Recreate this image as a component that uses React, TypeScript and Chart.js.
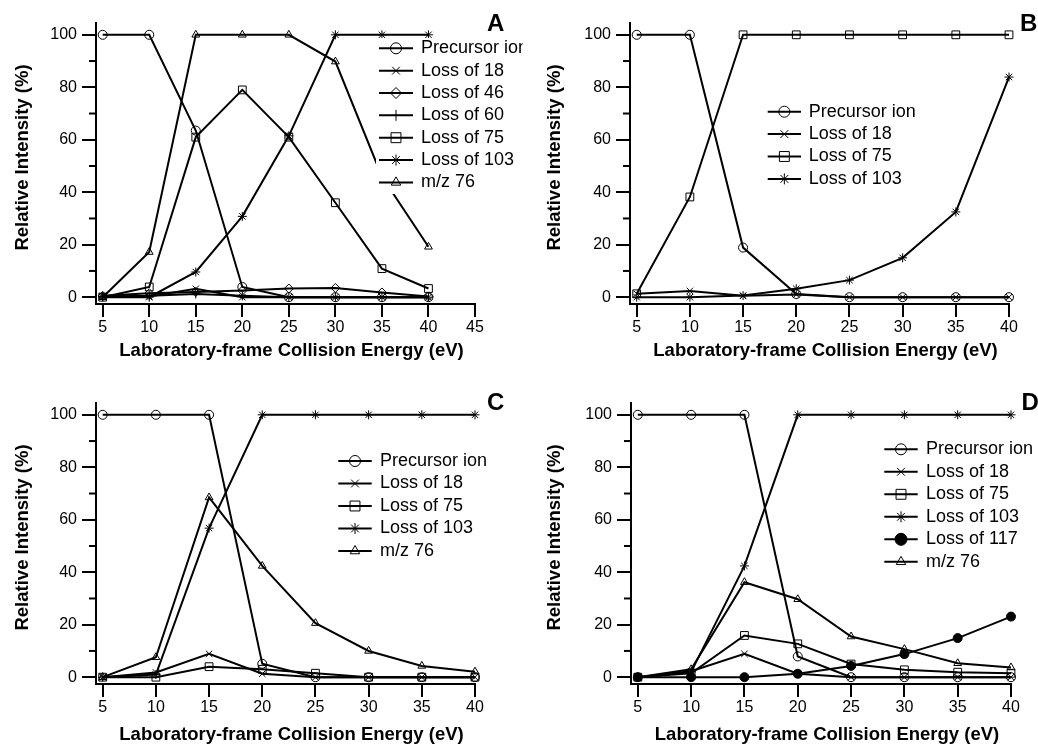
import React, { useEffect, useRef } from 'react';
import { Chart, registerables } from 'chart.js';
import { drawPoint } from 'chart.js/helpers';

Chart.register(...registerables);

const FONT = '"Liberation Sans", Arial, Helvetica, sans-serif';

// ---------- data ----------
const energies = [5, 10, 15, 20, 25, 30, 35, 40];
const xTicksA = [5, 10, 15, 20, 25, 30, 35, 40, 45];
const xTicksBCD = [5, 10, 15, 20, 25, 30, 35, 40];
const yMajorTicks = [0, 20, 40, 60, 80, 100];
const yMinorTicks = [10, 30, 50, 70, 90];

const xTitle = 'Laboratory-frame Collision Energy (eV)';
const yTitle = 'Relative Intensity (%)';

// Panel A
const aPrecursorIon = [100, 100, 63.5, 3.9, 0, 0, 0, 0];
const aLoss18 = [0.5, 0.3, 3.2, 0, 0, 0, 0, 0];
const aLoss46 = [0.5, 1.5, 2, 2.5, 3.3, 3.5, 1.8, 0.3];
const aLoss60 = [0.3, 0.5, 1.2, 0.5, 0, 0, 0, 0];
const aLoss75 = [0, 3.9, 61, 79, 61, 36, 10.9, 3.3];
const aLoss103 = [0, 0, 9.6, 30.8, 61.5, 100, 100, 100];
const aMz76 = [0, 17.2, 100, 100, 100, 89.8, 46, 19.2];

// Panel B
const bPrecursorIon = [100, 100, 18.9, 1.2, 0, 0, 0, 0];
const bLoss18 = [1.3, 2.4, 0.5, 1, 0, 0, 0, 0];
const bLoss75 = [1.3, 38.2, 100, 100, 100, 100, 100, 100];
const bLoss103 = [0, 0, 0.6, 3.2, 6.5, 15, 32.5, 83.9];

// Panel C
const cPrecursorIon = [100, 100, 100, 5.1, 0, 0, 0, 0];
const cLoss18 = [0, 1.8, 8.9, 1.3, 0, 0, 0, 0];
const cLoss75 = [0, 0, 4, 3, 1.5, 0, 0, 0];
const cLoss103 = [0, 1, 56.8, 100, 100, 100, 100, 100];
const cMz76 = [0, 7.6, 68.5, 42.4, 20.6, 10, 4.3, 2.1];

// Panel D
const dPrecursorIon = [100, 100, 100, 7.9, 0, 0, 0, 0];
const dLoss18 = [0, 2.3, 8.9, 1.3, 0, 0, 0, 0];
const dLoss75 = [0, 1.5, 15.9, 12.7, 5, 2.8, 1.9, 1.5];
const dLoss103 = [0, 2, 42.4, 100, 100, 100, 100, 100];
const dLoss117 = [0, 0, 0, 1.3, 4.3, 8.8, 14.9, 23.1];
const dMz76 = [0, 3, 36.2, 29.7, 15.5, 10.7, 5.3, 3.7];

// ---------- helpers ----------
function series(label: string, values: number[], style: string, filled = false) {
  return {
    label,
    data: energies.map((x, i) => ({ x, y: values[i] })),
    borderColor: '#000',
    borderWidth: 2,
    pointStyle: style,
    pointRadius: style === 'rect' ? 5.5 : 4.5,
    pointBorderWidth: 1,
    pointBorderColor: '#000',
    pointBackgroundColor: filled ? '#000' : 'rgba(0,0,0,0)',
    tension: 0,
    fill: false,
    clip: false,
  };
}

type LegendCfg = {
  x1: number; x2: number; textX: number; rowY: number; rowGap: number;
  box?: { x: number; y: number; w: number; h: number };
};

type PanelCfg = {
  left: number; top: number; width: number; height: number;
  padTop: number; padRight: number; yAxisWidth: number; xAxisHeight: number;
  xMin: number; xMax: number; xTicks: number[];
  yTitleX: number; xTitleY: number; xTickPad: number;
  letter: string; letterX: number; letterY: number;
  legend: LegendCfg;
  datasets: any[];
};

function legendRadius(style: string, filled: boolean) {
  if (style === 'rect') return 7;
  if (filled) return 6;
  return 5.5;
}

function decorPlugin(cfg: PanelCfg) {
  return {
    id: 'decor' + cfg.letter,
    afterDatasetsDraw(chart: any) {
      const ctx: CanvasRenderingContext2D = chart.ctx;
      const area = chart.chartArea;
      const yScale = chart.scales.y;
      ctx.save();
      // minor y ticks
      ctx.strokeStyle = '#000';
      ctx.lineWidth = 2;
      for (const v of yMinorTicks) {
        const py = yScale.getPixelForValue(v);
        ctx.beginPath();
        ctx.moveTo(area.left - 7, py);
        ctx.lineTo(area.left, py);
        ctx.stroke();
      }
      // axis titles
      ctx.fillStyle = '#000';
      ctx.font = `bold 18.5px ${FONT}`;
      ctx.textAlign = 'center';
      ctx.textBaseline = 'middle';
      ctx.fillText(xTitle, (area.left + area.right) / 2 + 6, cfg.xTitleY);
      ctx.save();
      ctx.translate(cfg.yTitleX, (area.top + area.bottom) / 2 - 6);
      ctx.rotate(-Math.PI / 2);
      ctx.fillText(yTitle, 0, 0);
      ctx.restore();
      // legend
      const lg = cfg.legend;
      ctx.save();
      if (lg.box) {
        ctx.fillStyle = '#fff';
        ctx.fillRect(lg.box.x, lg.box.y, lg.box.w, lg.box.h);
        ctx.beginPath();
        ctx.rect(lg.box.x, lg.box.y, lg.box.w, lg.box.h);
        ctx.clip();
      }
      chart.data.datasets.forEach((d: any, i: number) => {
        const cy = lg.rowY + i * lg.rowGap;
        const filled = d.pointBackgroundColor === '#000';
        ctx.strokeStyle = '#000';
        ctx.lineWidth = 2;
        ctx.beginPath();
        ctx.moveTo(lg.x1, cy);
        ctx.lineTo(lg.x2, cy);
        ctx.stroke();
        ctx.fillStyle = d.pointBackgroundColor;
        ctx.strokeStyle = '#000';
        ctx.lineWidth = 1;
        drawPoint(ctx, { pointStyle: d.pointStyle, rotation: 0, radius: legendRadius(d.pointStyle, filled), borderWidth: 1 } as any, (lg.x1 + lg.x2) / 2, cy);
        ctx.fillStyle = '#000';
        ctx.font = `18px ${FONT}`;
        ctx.textAlign = 'left';
        ctx.textBaseline = 'middle';
        ctx.fillText(d.label, lg.textX, cy);
      });
      ctx.restore();
      // panel letter
      ctx.fillStyle = '#000';
      ctx.font = `bold 24px ${FONT}`;
      ctx.textAlign = 'left';
      ctx.textBaseline = 'middle';
      ctx.fillText(cfg.letter, cfg.letterX, cfg.letterY);
      ctx.restore();
    },
  };
}

function Panel({ cfg }: { cfg: PanelCfg }) {
  const ref = useRef<HTMLCanvasElement>(null);
  useEffect(() => {
    const tickFont = { family: FONT, size: 16 };
    const chart = new Chart(ref.current as HTMLCanvasElement, {
      type: 'line',
      data: { datasets: cfg.datasets },
      plugins: [decorPlugin(cfg)],
      options: {
        animation: false,
        responsive: false,
        events: [],
        layout: { padding: { left: 0, right: cfg.padRight, top: cfg.padTop, bottom: 0 } },
        plugins: { legend: { display: false }, tooltip: { enabled: false } },
        scales: {
          x: {
            type: 'linear',
            min: cfg.xMin,
            max: cfg.xMax,
            afterBuildTicks: (s: any) => { s.ticks = cfg.xTicks.map((v) => ({ value: v })); },
            afterFit: (s: any) => { s.height = cfg.xAxisHeight; },
            grid: { drawOnChartArea: false, drawTicks: true, tickLength: 13, tickWidth: 2, tickColor: '#000', color: '#000', lineWidth: 2 },
            border: { display: true, color: '#000', width: 2 },
            ticks: { font: tickFont, color: '#000', padding: cfg.xTickPad, maxRotation: 0, autoSkip: false },
            title: { display: false },
          },
          y: {
            type: 'linear',
            min: -2.6,
            max: 104.5,
            afterBuildTicks: (s: any) => { s.ticks = yMajorTicks.map((v) => ({ value: v })); },
            afterFit: (s: any) => { s.width = cfg.yAxisWidth; },
            grid: { drawOnChartArea: false, drawTicks: true, tickLength: 14, tickWidth: 2, tickColor: '#000', color: '#000', lineWidth: 2 },
            border: { display: true, color: '#000', width: 2 },
            ticks: { font: tickFont, color: '#000', padding: 5 },
            title: { display: false },
          },
        },
      } as any,
    });
    return () => chart.destroy();
  }, []);
  return (
    <div style={{ position: 'absolute', left: cfg.left, top: cfg.top, width: cfg.width, height: cfg.height }}>
      <canvas ref={ref} width={cfg.width} height={cfg.height} style={{ display: 'block', width: cfg.width, height: cfg.height }} />
    </div>
  );
}

const panels: PanelCfg[] = [
  {
    left: 0, top: 0, width: 525, height: 375, padTop: 23, padRight: 50, yAxisWidth: 96, xAxisHeight: 71,
    xMin: 4.28, xMax: 45, xTicks: xTicksA, yTitleX: 23, xTitleY: 351, xTickPad: 1,
    letter: 'A', letterX: 487, letterY: 24,
    legend: { x1: 379, x2: 413, textX: 421, rowY: 48.3, rowGap: 22.35, box: { x: 376, y: 38, w: 147, h: 156 } },
    datasets: [
      series('Precursor ion', aPrecursorIon, 'circle'),
      series('Loss of 18', aLoss18, 'crossRot'),
      series('Loss of 46', aLoss46, 'rectRot'),
      series('Loss of 60', aLoss60, 'cross'),
      series('Loss of 75', aLoss75, 'rect'),
      series('Loss of 103', aLoss103, 'star'),
      series('m/z 76', aMz76, 'triangle'),
    ],
  },
  {
    left: 519, top: 0, width: 519, height: 375, padTop: 23, padRight: 29, yAxisWidth: 111, xAxisHeight: 71,
    xMin: 4.37, xMax: 40, xTicks: xTicksBCD, yTitleX: 36, xTitleY: 351, xTickPad: 1,
    letter: 'B', letterX: 501, letterY: 24,
    legend: { x1: 248.7, x2: 282, textX: 289.7, rowY: 111.7, rowGap: 22.4 },
    datasets: [
      series('Precursor ion', bPrecursorIon, 'circle'),
      series('Loss of 18', bLoss18, 'crossRot'),
      series('Loss of 75', bLoss75, 'rect'),
      series('Loss of 103', bLoss103, 'star'),
    ],
  },
  {
    left: 0, top: 375, width: 525, height: 376, padTop: 28, padRight: 50, yAxisWidth: 96, xAxisHeight: 67,
    xMin: 4.37, xMax: 40, xTicks: xTicksBCD, yTitleX: 23, xTitleY: 359.5, xTickPad: 1,
    letter: 'C', letterX: 487, letterY: 28,
    legend: { x1: 338.3, x2: 371.7, textX: 380, rowY: 86, rowGap: 22.5 },
    datasets: [
      series('Precursor ion', cPrecursorIon, 'circle'),
      series('Loss of 18', cLoss18, 'crossRot'),
      series('Loss of 75', cLoss75, 'rect'),
      series('Loss of 103', cLoss103, 'star'),
      series('m/z 76', cMz76, 'triangle'),
    ],
  },
  {
    left: 519, top: 375, width: 519, height: 376, padTop: 28, padRight: 27, yAxisWidth: 112, xAxisHeight: 67,
    xMin: 4.36, xMax: 40, xTicks: xTicksBCD, yTitleX: 36, xTitleY: 359.5, xTickPad: 1,
    letter: 'D', letterX: 502.5, letterY: 28,
    legend: { x1: 365.3, x2: 398.7, textX: 407, rowY: 74.3, rowGap: 22.5 },
    datasets: [
      series('Precursor ion', dPrecursorIon, 'circle'),
      series('Loss of 18', dLoss18, 'crossRot'),
      series('Loss of 75', dLoss75, 'rect'),
      series('Loss of 103', dLoss103, 'star'),
      series('Loss of 117', dLoss117, 'circle', true),
      series('m/z 76', dMz76, 'triangle'),
    ],
  },
];

export default function App() {
  return (
    <div style={{ position: 'absolute', left: 0, top: 0, width: 1038, height: 751, background: '#fff', overflow: 'hidden' }}>
      {panels.map((p) => (
        <Panel key={p.letter} cfg={p} />
      ))}
    </div>
  );
}
